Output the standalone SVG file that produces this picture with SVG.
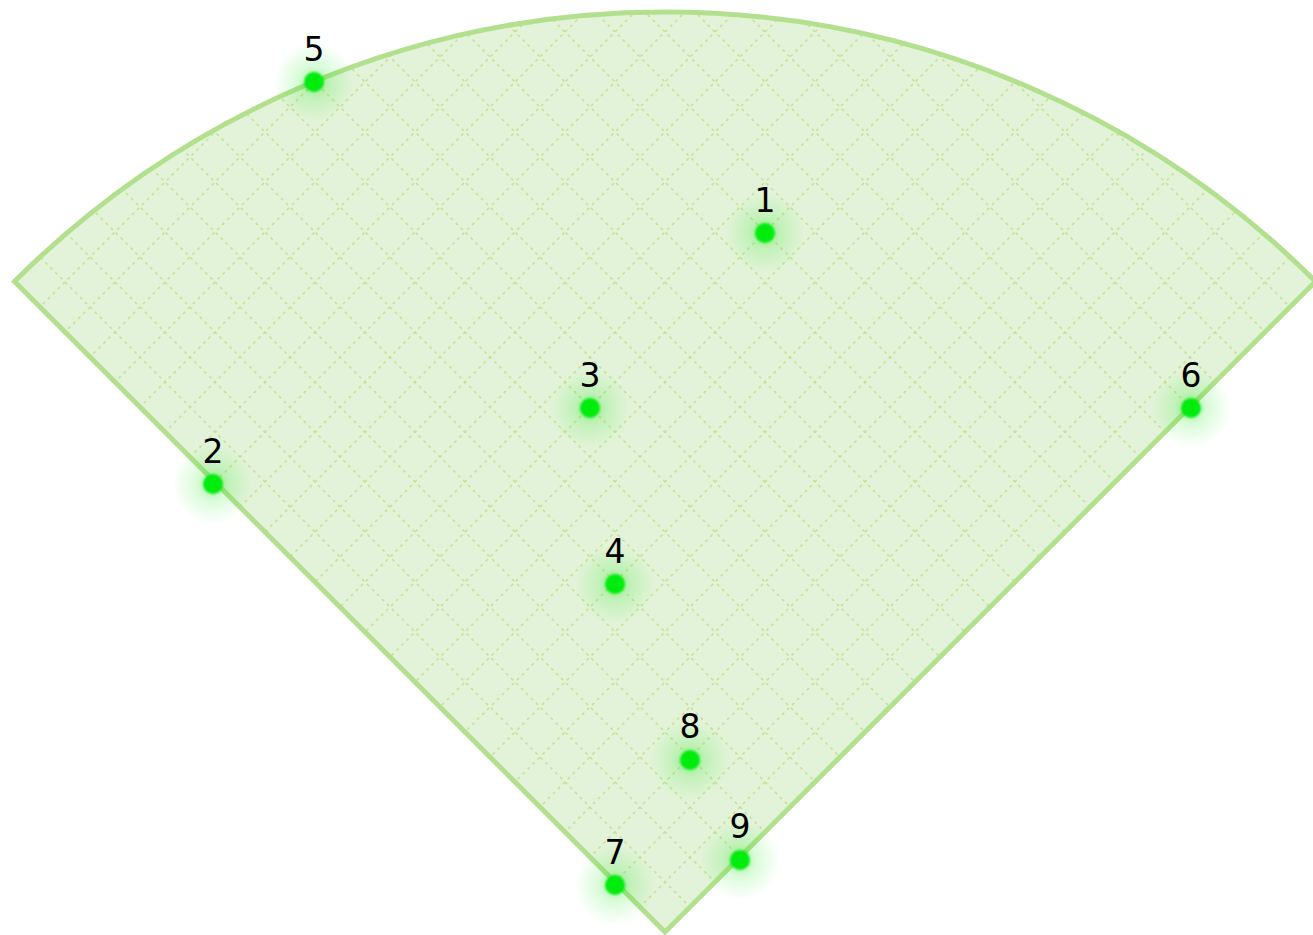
<svg xmlns="http://www.w3.org/2000/svg" width="1313" height="935" viewBox="0 0 1313 935">
<style>
.grid{fill:none;stroke:#c8e090;stroke-width:1.5;stroke-dasharray:3 4}
.lbl{font-family:"DejaVu Sans",sans-serif;font-size:33px;fill:#000;text-anchor:middle}
.dot{fill:#00ec10;filter:url(#soft)}
.glow{fill:url(#halo)}
</style>
<defs>
<clipPath id="wedgeClip"><path d="M665 932 L14.5 281.5 A920 920 0 0 1 1315.5 281.5 Z"/></clipPath>
<radialGradient id="halo"><stop offset="0" stop-color="#00e600" stop-opacity="0.4"/><stop offset="0.4" stop-color="#00e600" stop-opacity="0.15"/><stop offset="1" stop-color="#00e600" stop-opacity="0"/></radialGradient>
<filter id="soft" x="-50%" y="-50%" width="200%" height="200%"><feGaussianBlur stdDeviation="1"/></filter>
</defs>
<g id="sector">
<path d="M665 932 L14.5 281.5 A920 920 0 0 1 1315.5 281.5 Z" fill="#e3f3d9"/>
<g clip-path="url(#wedgeClip)">
<path class="grid" d="M1547 0L547 1000M1497 0L497 1000M1447 0L447 1000M1397 0L397 1000M1347 0L347 1000M1297 0L297 1000M1247 0L247 1000M1197 0L197 1000M1147 0L147 1000M1097 0L97 1000M1047 0L47 1000M997 0L-3 1000M947 0L-53 1000M897 0L-103 1000M847 0L-153 1000M797 0L-203 1000M747 0L-253 1000M697 0L-303 1000M647 0L-353 1000M597 0L-403 1000M547 0L-453 1000M497 0L-503 1000M447 0L-553 1000M397 0L-603 1000M347 0L-653 1000"/>
<path class="grid" d="M-217 0L783 1000M-167 0L833 1000M-117 0L883 1000M-67 0L933 1000M-17 0L983 1000M33 0L1033 1000M83 0L1083 1000M133 0L1133 1000M183 0L1183 1000M233 0L1233 1000M283 0L1283 1000M333 0L1333 1000M383 0L1383 1000M433 0L1433 1000M483 0L1483 1000M533 0L1533 1000M583 0L1583 1000M633 0L1633 1000M683 0L1683 1000M733 0L1733 1000M783 0L1783 1000M833 0L1833 1000M883 0L1883 1000M933 0L1933 1000M983 0L1983 1000"/>
</g>
<path d="M665 932 L14.5 281.5 A920 920 0 0 1 1315.5 281.5 Z" fill="none" stroke="#b3e08e" stroke-width="5"/>
</g>
<g id="p1"><circle class="glow" cx="765" cy="233" r="40"/><circle class="dot" cx="765" cy="233" r="10"/><text class="lbl" x="765" y="212">1</text></g>
<g id="p2"><circle class="glow" cx="213" cy="484" r="40"/><circle class="dot" cx="213" cy="484" r="10"/><text class="lbl" x="213" y="463">2</text></g>
<g id="p3"><circle class="glow" cx="590" cy="408" r="40"/><circle class="dot" cx="590" cy="408" r="10"/><text class="lbl" x="590" y="387">3</text></g>
<g id="p4"><circle class="glow" cx="615" cy="584" r="40"/><circle class="dot" cx="615" cy="584" r="10"/><text class="lbl" x="615" y="563">4</text></g>
<g id="p5"><circle class="glow" cx="314" cy="82" r="40"/><circle class="dot" cx="314" cy="82" r="10"/><text class="lbl" x="314" y="61">5</text></g>
<g id="p6"><circle class="glow" cx="1191" cy="408" r="40"/><circle class="dot" cx="1191" cy="408" r="10"/><text class="lbl" x="1191" y="387">6</text></g>
<g id="p7"><circle class="glow" cx="615" cy="885" r="40"/><circle class="dot" cx="615" cy="885" r="10"/><text class="lbl" x="615" y="864">7</text></g>
<g id="p8"><circle class="glow" cx="690" cy="760" r="40"/><circle class="dot" cx="690" cy="760" r="10"/><text class="lbl" x="690" y="738">8</text></g>
<g id="p9"><circle class="glow" cx="740" cy="860" r="40"/><circle class="dot" cx="740" cy="860" r="10"/><text class="lbl" x="740" y="838">9</text></g>
<g id="connectors"/>
</svg>
